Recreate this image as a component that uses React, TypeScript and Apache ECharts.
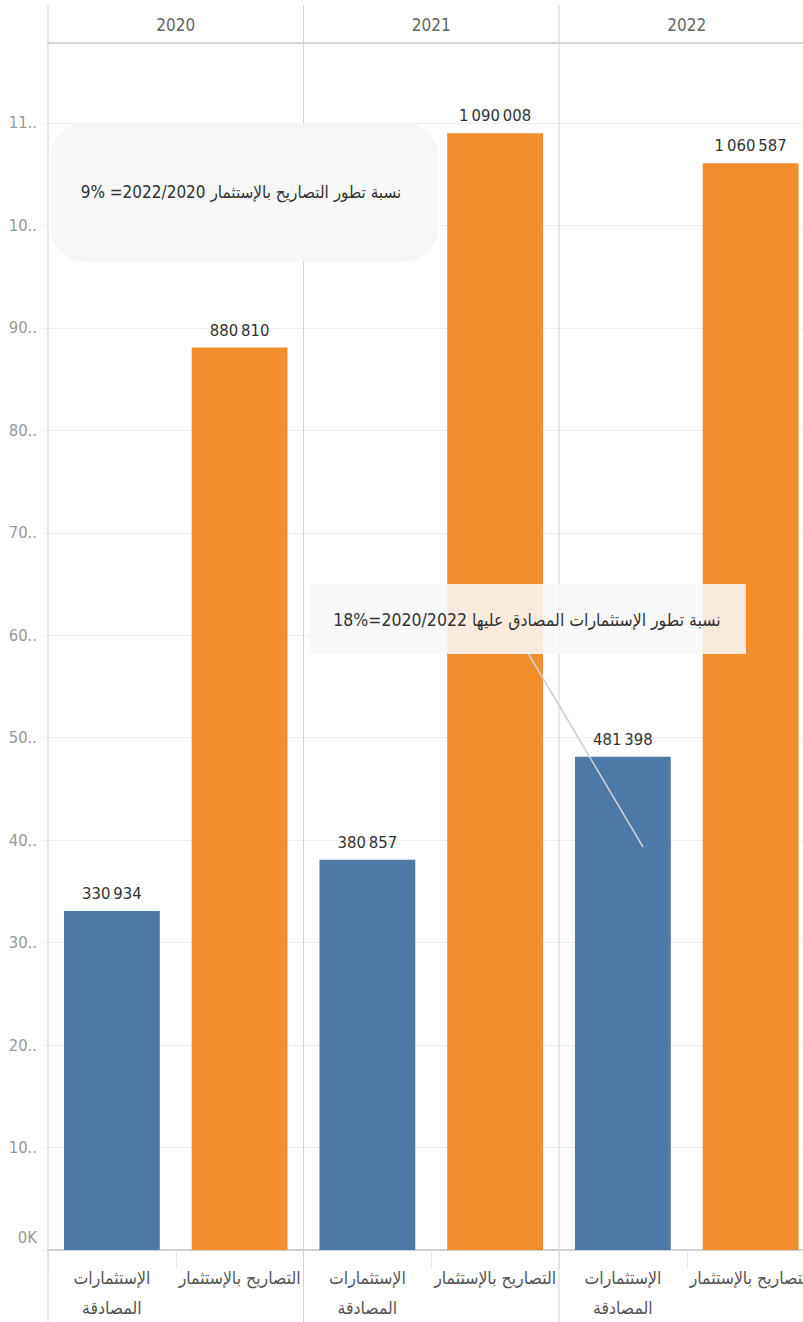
import React, { useEffect, useRef } from "react";
import * as echarts from "echarts";

// ---- data ----
const years = ["2020", "2021", "2022"];
const categories = ["الإستثمارات\nالمصادقة", "التصاريح بالإستثمار"];
const approvedInvestments = [330934, 380857, 481398];
const investmentDeclarations = [880810, 1090008, 1060587];
const barColors = ["#4e79a7", "#f28e2b"];
const yMax = 1178000;
const yInterval = 100000;
const note1 = "9% =2022/2020 نسبة تطور التصاريح بالإستثمار";
const note2 = "18%=2020/2022 نسبة تطور الإستثمارات المصادق عليها";

const FONT = "'DejaVu Sans Condensed', 'DejaVu Sans', sans-serif";

const PANEL_LEFT = 48;
const PANEL_W = 255.5;
const GRID_TOP = 43;
const GRID_BOTTOM = 72;

function fmtNum(v: number): string {
  const s = String(Math.round(v));
  return s.replace(/\B(?=(\d{3})+(?!\d))/g, "\u2009");
}

function yLabel(v: number): string {
  if (v === 0) return "{z|0K}";
  if (v > 1100000) return "";
  const s = v / 1000 + "K";
  return s.length > 2 ? s.slice(0, 2) + ".." : s;
}

export default function App() {
  const ref = useRef<HTMLDivElement>(null);
  useEffect(() => {
    if (!ref.current) return;
    const chart = echarts.init(ref.current, undefined, { renderer: "svg" });

    const grids = years.map((_, i) => ({
      left: PANEL_LEFT + i * PANEL_W,
      width: PANEL_W,
      top: GRID_TOP,
      bottom: GRID_BOTTOM,
      containLabel: false,
      outerBoundsMode: "none",
    }));

    const xAxes: any[] = [];
    years.forEach((y, i) => {
      xAxes.push({
        type: "category",
        gridIndex: i,
        position: "bottom",
        data: categories,
        axisLine: { show: true, lineStyle: { color: "#d0d0d0", width: 2 } },
        axisTick: { show: true, length: 18, interval: 0, lineStyle: { color: "#e6e6e6" } },
        axisLabel: {
          interval: 0,
          hideOverlap: false,
          color: "#555",
          fontSize: 17.5,
          lineHeight: 30,
          margin: 13,
          fontFamily: FONT,
        },
      });
      xAxes.push({
        type: "category",
        gridIndex: i,
        position: "top",
        data: [y],
        axisLine: { show: true, lineStyle: { color: "#d6d6d6", width: 2 } },
        axisTick: { show: false },
        axisLabel: { color: "#666", fontSize: 17, margin: 10, fontFamily: FONT },
      });
    });

    const yAxes = years.map((_, i) => ({
      type: "value",
      gridIndex: i,
      min: 0,
      max: yMax,
      interval: yInterval,
      axisLine: { show: false },
      axisTick: { show: i === 0, length: 6, lineStyle: { color: "#efefef" } },
      splitLine: { show: true, lineStyle: { color: "#efefef", width: 1 } },
      axisLabel: {
        show: i === 0,
        showMaxLabel: false,
        formatter: yLabel,
        color: "#999",
        fontSize: 16.5,
        margin: 11,
        fontFamily: FONT,
        rich: {
          z: { color: "#999", fontSize: 16.5, fontFamily: FONT, padding: [0, 0, 26, 0] },
        },
      },
    }));

    const series = years.map((_, i) => ({
      type: "bar",
      xAxisIndex: i * 2,
      yAxisIndex: i,
      barWidth: "75%",
      data: [
        { value: approvedInvestments[i], itemStyle: { color: barColors[0] } },
        { value: investmentDeclarations[i], itemStyle: { color: barColors[1] } },
      ],
      label: {
        show: true,
        position: "top",
        distance: 9,
        color: "#333",
        fontSize: 16.5,
        fontFamily: FONT,
        formatter: (p: any) => fmtNum(p.value),
      },
    }));

    const sepLines = [0, 1, 2].map((i) => ({
      type: "line",
      z: 1,
      shape: { x1: PANEL_LEFT + i * PANEL_W, y1: 5, x2: PANEL_LEFT + i * PANEL_W, y2: 1322 },
      style: { stroke: "#d4d4d4", lineWidth: 1 },
    }));

    chart.setOption({
      animation: false,
      backgroundColor: "#ffffff",
      grid: grids,
      xAxis: xAxes,
      yAxis: yAxes,
      series,
      graphic: [
        ...sepLines,
        {
          type: "rect",
          z: 10,
          shape: { x: 50, y: 123, width: 389, height: 139, r: 35 },
          style: { fill: "rgba(246,246,246,0.87)" },
        },
        {
          type: "text",
          z: 11,
          x: 241,
          y: 192,
          style: {
            text: note1,
            align: "center",
            verticalAlign: "middle",
            fontSize: 17,
            fill: "#333",
            fontFamily: FONT,
          },
        },
        {
          type: "line",
          z: 10,
          shape: { x1: 528, y1: 653, x2: 643, y2: 847 },
          style: { stroke: "#cfcfcf", lineWidth: 1.5 },
        },
        {
          type: "rect",
          z: 10,
          shape: { x: 309, y: 584, width: 437, height: 70 },
          style: { fill: "rgba(248,248,248,0.87)" },
        },
        {
          type: "text",
          z: 11,
          x: 527,
          y: 620,
          style: {
            text: note2,
            align: "center",
            verticalAlign: "middle",
            fontSize: 17.5,
            fill: "#333",
            fontFamily: FONT,
          },
        },
      ],
    });
    return () => chart.dispose();
  }, []);

  return (
    <div
      ref={ref}
      style={{ position: "absolute", left: 0, top: 0, width: 803, height: 1322, background: "#fff" }}
    />
  );
}
